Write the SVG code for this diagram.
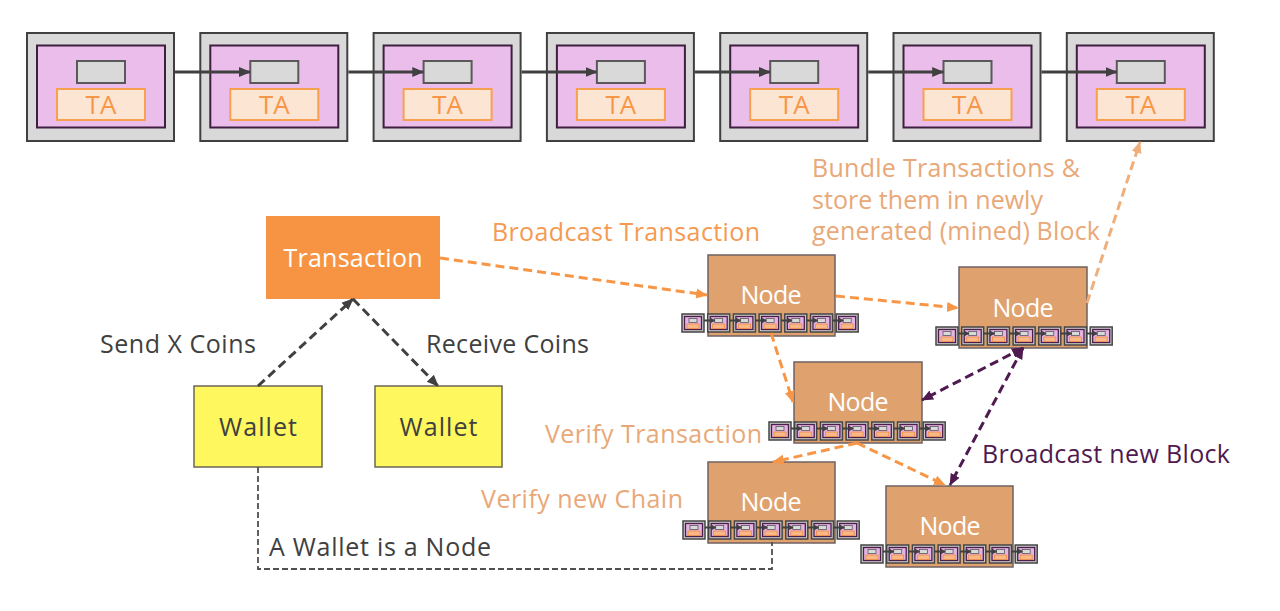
<svg xmlns="http://www.w3.org/2000/svg" xmlns:xlink="http://www.w3.org/1999/xlink" width="1280" height="611" viewBox="0 0 1280 611">
<style>
text{font-family:"Open Sans","Noto Sans","Liberation Sans",sans-serif}
.bo{fill:#d9d9d9;stroke:#404040;stroke-width:2}
.bi{fill:#eabdea;stroke:#3f1f3f;stroke-width:2}
.bg{fill:#d9d9d9;stroke:#595959;stroke-width:2}
.bt{fill:#fde5d3;stroke:#f7a050;stroke-width:2}
.ta{fill:#f79646;font-size:26px;text-anchor:middle}
.link{stroke:#404040;stroke-width:3;fill:none}
.nbox{fill:#dfa26f;stroke:#6e6160;stroke-width:1.5}
.ntx{fill:#ffffff;font-size:25px;text-anchor:middle}
.od{stroke:#f79646;stroke-width:3;fill:none;stroke-dasharray:9 5}
.ld{stroke:#eeaf7c;stroke-width:3;fill:none;stroke-dasharray:9 5}
.gd{stroke:#404040;stroke-width:3;fill:none;stroke-dasharray:9 5}
.pd{stroke:#4f1a4f;stroke-width:3;fill:none;stroke-dasharray:9 5}
.thin{stroke:#505050;stroke-width:1.8;fill:none;stroke-dasharray:6 3}
.lbl{font-size:25px}
</style>
<defs>
<marker id="ah" markerUnits="userSpaceOnUse" markerWidth="12" markerHeight="12" refX="11" refY="6" orient="auto"><path d="M0,1 L12,6 L0,11 z" fill="#404040"/></marker>
<marker id="ao" markerUnits="userSpaceOnUse" markerWidth="12" markerHeight="12" refX="11" refY="6" orient="auto"><path d="M0,1 L12,6 L0,11 z" fill="#f79646"/></marker>
<marker id="al" markerUnits="userSpaceOnUse" markerWidth="12" markerHeight="12" refX="11" refY="6" orient="auto"><path d="M0,1 L12,6 L0,11 z" fill="#eeaf7c"/></marker>
<marker id="ag" markerUnits="userSpaceOnUse" markerWidth="12" markerHeight="12" refX="11" refY="6" orient="auto"><path d="M0,1 L12,6 L0,11 z" fill="#404040"/></marker>
<marker id="ap" markerUnits="userSpaceOnUse" markerWidth="12" markerHeight="12" refX="11" refY="6" orient="auto-start-reverse"><path d="M0,1 L12,6 L0,11 z" fill="#4f1a4f"/></marker>
<marker id="am" markerUnits="userSpaceOnUse" markerWidth="5" markerHeight="6" refX="4.5" refY="3" orient="auto"><path d="M0,0 L5,3 L0,6 z" fill="#404040"/></marker>
<g id="mini">
<rect x="0" y="0" width="22" height="18" fill="#c8c8c8" stroke="#454545" stroke-width="1.5"/>
<rect x="2.5" y="2.5" width="17" height="13" fill="#e6b3e6" stroke="#4a1f4a" stroke-width="1.3"/>
<rect x="7" y="4.5" width="8" height="4" fill="#d9d9d9" stroke="#595959" stroke-width="0.8"/>
<rect x="5" y="10" width="12" height="4.5" fill="#f8b888" stroke="#f08a3c" stroke-width="0.8"/>
</g>
<g id="minichain">
<use href="#mini" x="0"/>
<use href="#mini" x="25.7"/>
<use href="#mini" x="51.4"/>
<use href="#mini" x="77.1"/>
<use href="#mini" x="102.8"/>
<use href="#mini" x="128.5"/>
<use href="#mini" x="154.2"/>
<g stroke="#404040" stroke-width="2" marker-end="url(#am)">
<line x1="22" y1="6.5" x2="32.7" y2="6.5"/>
<line x1="47.7" y1="6.5" x2="58.4" y2="6.5"/>
<line x1="73.4" y1="6.5" x2="84.1" y2="6.5"/>
<line x1="99.1" y1="6.5" x2="109.8" y2="6.5"/>
<line x1="124.8" y1="6.5" x2="135.5" y2="6.5"/>
<line x1="150.5" y1="6.5" x2="161.2" y2="6.5"/>
</g>
</g>
<g id="blk">
<rect class="bo" x="0" y="0" width="147" height="108"/>
<rect class="bi" x="10" y="12.5" width="128" height="82"/>
<rect class="bg" x="50" y="28" width="48" height="22"/>
<rect class="bt" x="30" y="56" width="88" height="31"/>
<text class="ta" x="74" y="81">TA</text>
</g>
</defs>

<g id="blockchain">
<use href="#blk" x="27" y="33"/>
<use href="#blk" x="200.3" y="33"/>
<use href="#blk" x="373.6" y="33"/>
<use href="#blk" x="546.9" y="33"/>
<use href="#blk" x="720.2" y="33"/>
<use href="#blk" x="893.5" y="33"/>
<use href="#blk" x="1066.8" y="33"/>
<g class="link" marker-end="url(#ah)">
<line x1="175" y1="72" x2="250" y2="72"/>
<line x1="348.3" y1="72" x2="423.3" y2="72"/>
<line x1="521.6" y1="72" x2="596.6" y2="72"/>
<line x1="694.9" y1="72" x2="769.9" y2="72"/>
<line x1="868.2" y1="72" x2="943.2" y2="72"/>
<line x1="1041.5" y1="72" x2="1116.5" y2="72"/>
</g>
</g>

<g id="transaction">
<rect x="266" y="216" width="174" height="83" fill="#f79443"/>
<text x="353" y="267" fill="#ffffff" font-size="25" text-anchor="middle" textLength="139">Transaction</text>
</g>
<g id="wallet1">
<rect x="194" y="386" width="128" height="81" fill="#fff75e" stroke="#6e6655" stroke-width="1.5"/>
<text x="258" y="436" fill="#404040" font-size="25" text-anchor="middle" textLength="78">Wallet</text>
</g>
<g id="wallet2">
<rect x="375" y="386" width="127" height="81" fill="#fff75e" stroke="#6e6655" stroke-width="1.5"/>
<text x="438.5" y="436" fill="#404040" font-size="25" text-anchor="middle" textLength="78">Wallet</text>
</g>

<g id="node1">
<rect class="nbox" x="708" y="255" width="127" height="81"/>
<text class="ntx" x="771" y="304" textLength="61">Node</text>
<use href="#minichain" x="682" y="314"/>
</g>
<g id="node2">
<rect class="nbox" x="959" y="267" width="128" height="81"/>
<text class="ntx" x="1023" y="317" textLength="61">Node</text>
<use href="#minichain" x="936" y="327"/>
</g>
<g id="node3">
<rect class="nbox" x="794" y="362" width="128" height="81"/>
<text class="ntx" x="858" y="411" textLength="61">Node</text>
<use href="#minichain" x="769" y="422"/>
</g>
<g id="node4">
<rect class="nbox" x="708" y="462" width="127" height="81"/>
<text class="ntx" x="771" y="511" textLength="61">Node</text>
<use href="#minichain" x="683" y="521"/>
</g>
<g id="node5">
<rect class="nbox" x="886" y="486" width="127" height="81"/>
<text class="ntx" x="950" y="535" textLength="61">Node</text>
<use href="#minichain" x="861" y="545"/>
</g>

<g id="connectors">
<line class="gd" x1="258" y1="386" x2="353" y2="299" marker-end="url(#ag)"/>
<line class="gd" x1="353" y1="299" x2="438" y2="386" marker-end="url(#ag)"/>
<line class="od" x1="440" y1="258" x2="707" y2="295" marker-end="url(#ao)"/>
<line class="od" x1="836" y1="296" x2="958" y2="308" marker-end="url(#ao)"/>
<line class="od" x1="771" y1="333" x2="793" y2="402" marker-end="url(#ao)"/>
<line class="od" x1="857" y1="443" x2="773" y2="462" marker-end="url(#ao)"/>
<line class="od" x1="857" y1="443" x2="945" y2="485" marker-end="url(#ao)"/>
<line class="ld" x1="1087" y1="303" x2="1140" y2="142" marker-end="url(#al)"/>
<line class="pd" x1="1023" y1="348" x2="922" y2="400" marker-start="url(#ap)" marker-end="url(#ap)"/>
<line class="pd" x1="1023" y1="348" x2="950" y2="485" marker-start="url(#ap)" marker-end="url(#ap)"/>
<path class="thin" d="M258,467 V569 H772 V542"/>
</g>

<g id="labels">
<text class="lbl" x="492" y="241" fill="#f59a52" textLength="268">Broadcast Transaction</text>
<text class="lbl" x="812" y="177" fill="#e9a877" textLength="268">Bundle Transactions &amp;</text>
<text class="lbl" x="812" y="208.5" fill="#e9a877" textLength="231">store them in newly</text>
<text class="lbl" x="812" y="240" fill="#e9a877" textLength="288">generated (mined) Block</text>
<text class="lbl" x="100" y="353" fill="#404040" textLength="156">Send X Coins</text>
<text class="lbl" x="426" y="353" fill="#404040" textLength="163">Receive Coins</text>
<text class="lbl" x="545" y="443" fill="#e9a877" textLength="217">Verify Transaction</text>
<text class="lbl" x="481" y="508" fill="#e9a877" textLength="202">Verify new Chain</text>
<text class="lbl" x="269" y="556" fill="#404040" textLength="222">A Wallet is a Node</text>
<text class="lbl" x="982" y="463" fill="#4f1a4f" textLength="248">Broadcast new Block</text>
</g>
</svg>
